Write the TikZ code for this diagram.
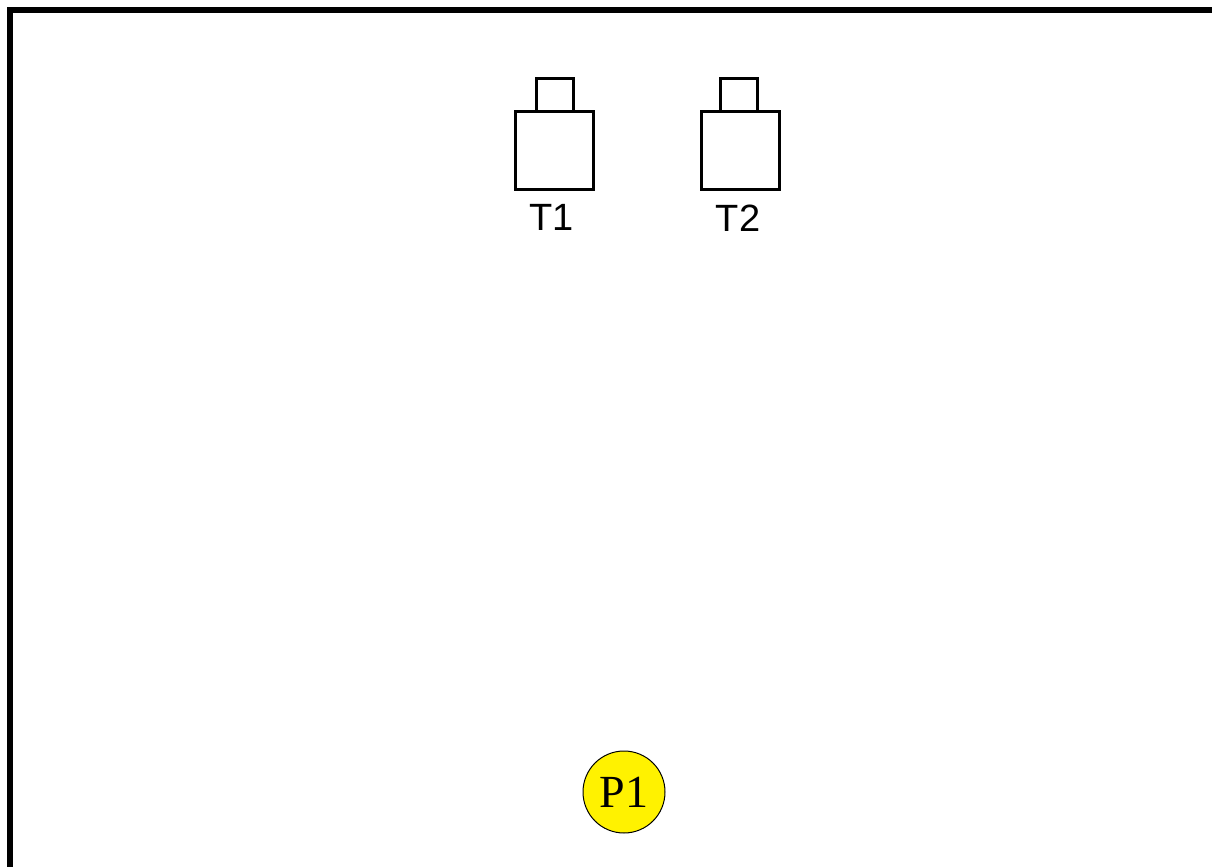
\documentclass[tikz,border=0pt]{standalone}
\usepackage{fontspec}
\setmainfont{Liberation Serif}
\newfontfamily\labelfont{Liberation Sans}
\usetikzlibrary{positioning}

\begin{document}
\begin{tikzpicture}[x=0.5pt,y=-0.5pt,
	tankbox/.style={draw,line width=1.5pt,inner sep=0pt,outer sep=0pt,minimum size=39pt},
	capbox/.style={draw,line width=1.5pt,inner sep=0pt,outer sep=0pt,minimum width=18.5pt,minimum height=16.5pt},
	tanklabel/.style={inner sep=0pt,outer sep=0pt,font=\labelfont\fontsize{19}{22}\selectfont},
	pump/.style={circle,draw,line width=0.5pt,fill=yellow,inner sep=0pt,minimum size=41pt,font=\fontsize{23}{25}\selectfont}]
		\useasboundingbox (0,0) rectangle (1212,867);
		
		% frame
		\draw[line width=3pt] (10,10) rectangle (1230,885);
		
		% tanks
		\node[tankbox] (tank1) at (554.5,150.5) {};
		\node[capbox] (cap1) [above=0pt of tank1] {};
		\node[tanklabel] (t1) [below=7.5pt of tank1,xshift=-1.5pt] {T1};
		
		\node[tankbox] (tank2) at (740,150.5) {};
		\node[capbox] (cap2) [above=0pt of tank2,xshift=-0.5pt] {};
		\node[tanklabel] (t2) [below=7.5pt of tank2,xshift=-1pt] {T2};
		
		% pump
		\node[pump] (p1) at (624,792) {P1};
	\end{tikzpicture}
\end{document}
